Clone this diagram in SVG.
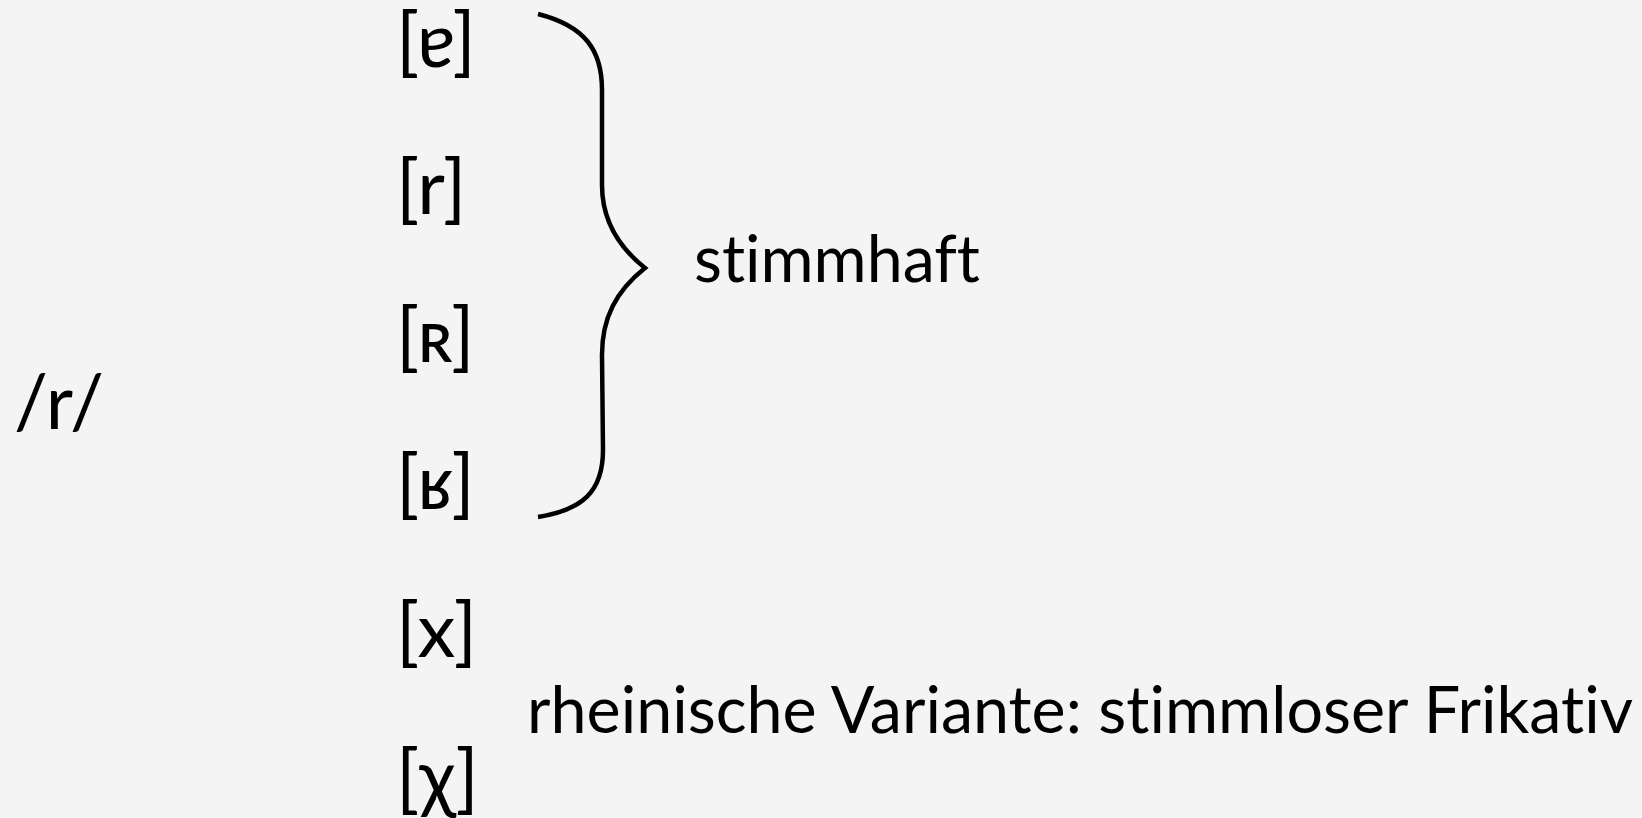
<svg xmlns="http://www.w3.org/2000/svg" width="1642" height="818" viewBox="0 0 1642 818">
<style>
.t{font-family:Lato,"Noto Sans","DejaVu Sans",sans-serif;fill:#000;font-variant-ligatures:none;font-feature-settings:"liga" 0,"clig" 0}
.ipa{font-size:76px}
.lbl{font-size:66px}
.br{fill:none;stroke:#000;stroke-width:4.5;stroke-linecap:butt}
</style>
<rect width="1642" height="818" fill="#f4f4f4"/>
<g id="phoneme"><text class="t ipa" x="14" y="429" textLength="90" lengthAdjust="spacingAndGlyphs">/r/</text></g>
<g id="n-vocalic-r"><text class="t ipa" x="396" y="67">[ɐ]</text></g>
<g id="n-alveolar-trill"><text class="t ipa" x="396" y="214">[r]</text></g>
<g id="n-uvular-trill"><text class="t ipa" x="396" y="362">[ʀ]</text></g>
<g id="n-uvular-fricative"><text class="t ipa" x="396" y="509">[ʁ]</text></g>
<g id="n-velar-fricative"><text class="t ipa" x="396" y="657">[x]</text></g>
<g id="n-uvular-voiceless"><text class="t ipa" x="396" y="804">[χ]</text></g>
<g id="l-stimmhaft"><text class="t lbl" x="694" y="282" textLength="286" lengthAdjust="spacingAndGlyphs">stimmhaft</text></g>
<g id="l-rheinisch"><text class="t lbl" x="527" y="733" textLength="1106" lengthAdjust="spacingAndGlyphs">rheinische Variante: stimmloser Frikativ</text></g>
<g id="connectors">
<path class="br" d="M538,14 C585,26 602,50 602,90 L602,185 C602,218 616,245 645,268 C616,291 602,318 602,355 L603,450 C603,492 582,510 538,517"/>
</g>
</svg>
